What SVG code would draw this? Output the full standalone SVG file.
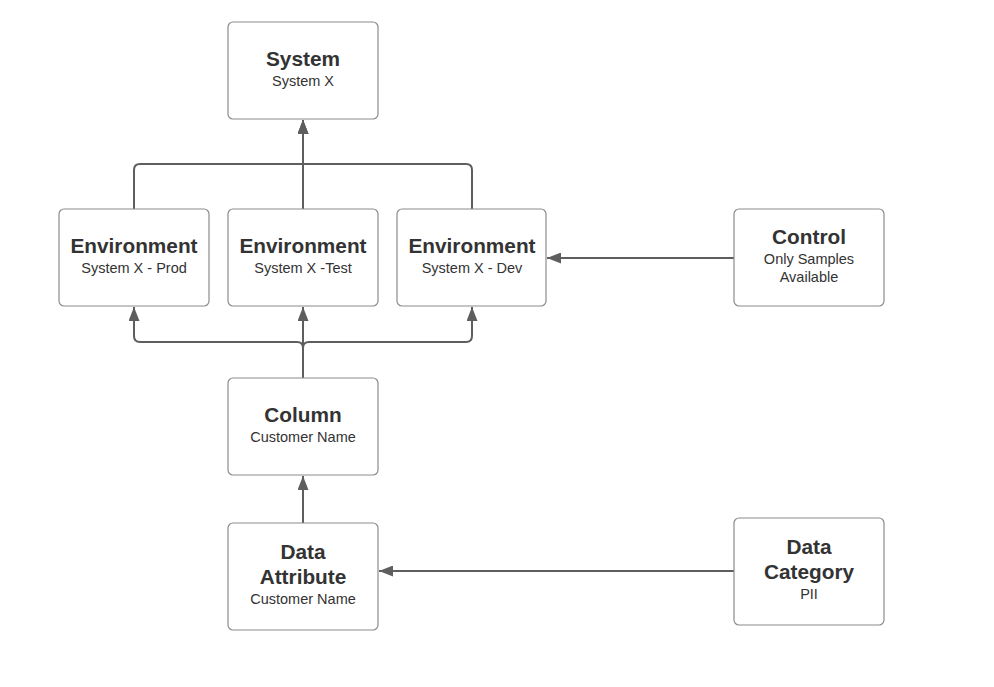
<svg xmlns="http://www.w3.org/2000/svg" width="994" height="687" viewBox="0 0 994 687">
<style>
.box{fill:#fff;stroke:#8c8c8c;stroke-width:1.2}
.t{font-family:"Liberation Sans",Arial,sans-serif;font-size:20.8px;font-weight:bold;fill:#333;text-anchor:middle}
.s{font-family:"Liberation Sans",Arial,sans-serif;font-size:14.5px;fill:#333;text-anchor:middle}
.c{fill:none;stroke:#5e5e5e;stroke-width:2;marker-end:url(#ah)}
</style>
<defs>
<marker id="ah" viewBox="0 0 14 11" refX="14" refY="5.5" markerWidth="14" markerHeight="11" markerUnits="userSpaceOnUse" orient="auto">
<path d="M0,0 L14,5.5 L0,11 z" fill="#5e5e5e"/>
</marker>
</defs>
<rect width="994" height="687" fill="#fff"/>
<g id="connectors">
<path class="c" d="M134,209 V170 Q134,164 140,164 H303 V120"/>
<path class="c" d="M303,209 V120"/>
<path class="c" d="M472,209 V170 Q472,164 466,164 H303 V120"/>
<path class="c" d="M303,378 V348 Q303,342 297,342 H140 Q134,342 134,336 V307"/>
<path class="c" d="M303,378 V307"/>
<path class="c" d="M303,378 V348 Q303,342 309,342 H466 Q472,342 472,336 V307"/>
<path class="c" d="M734,258 H547"/>
<path class="c" d="M734,571 H379"/>
<path class="c" d="M303,523 V476"/>
</g>
<g id="system">
<rect class="box" x="228" y="22" width="150" height="97" rx="5"/>
<text class="t" x="303" y="66">System</text>
<text class="s" x="303" y="86">System X</text>
</g>
<g id="env-prod">
<rect class="box" x="59" y="209" width="150" height="97" rx="5"/>
<text class="t" x="134" y="253">Environment</text>
<text class="s" x="134" y="273">System X - Prod</text>
</g>
<g id="env-test">
<rect class="box" x="228" y="209" width="150" height="97" rx="5"/>
<text class="t" x="303" y="253">Environment</text>
<text class="s" x="303" y="273">System X -Test</text>
</g>
<g id="env-dev">
<rect class="box" x="397" y="209" width="149" height="97" rx="5"/>
<text class="t" x="472" y="253">Environment</text>
<text class="s" x="472" y="273">System X - Dev</text>
</g>
<g id="control">
<rect class="box" x="734" y="209" width="150" height="97" rx="5"/>
<text class="t" x="809" y="244">Control</text>
<text class="s" x="809" y="264">Only Samples</text>
<text class="s" x="809" y="282">Available</text>
</g>
<g id="column">
<rect class="box" x="228" y="378" width="150" height="97" rx="5"/>
<text class="t" x="303" y="422">Column</text>
<text class="s" x="303" y="442">Customer Name</text>
</g>
<g id="data-attribute">
<rect class="box" x="228" y="523" width="150" height="107" rx="5"/>
<text class="t" x="303" y="559">Data</text>
<text class="t" x="303" y="584">Attribute</text>
<text class="s" x="303" y="604">Customer Name</text>
</g>
<g id="data-category">
<rect class="box" x="734" y="518" width="150" height="107" rx="5"/>
<text class="t" x="809" y="554">Data</text>
<text class="t" x="809" y="579">Category</text>
<text class="s" x="809" y="599">PII</text>
</g>
</svg>
